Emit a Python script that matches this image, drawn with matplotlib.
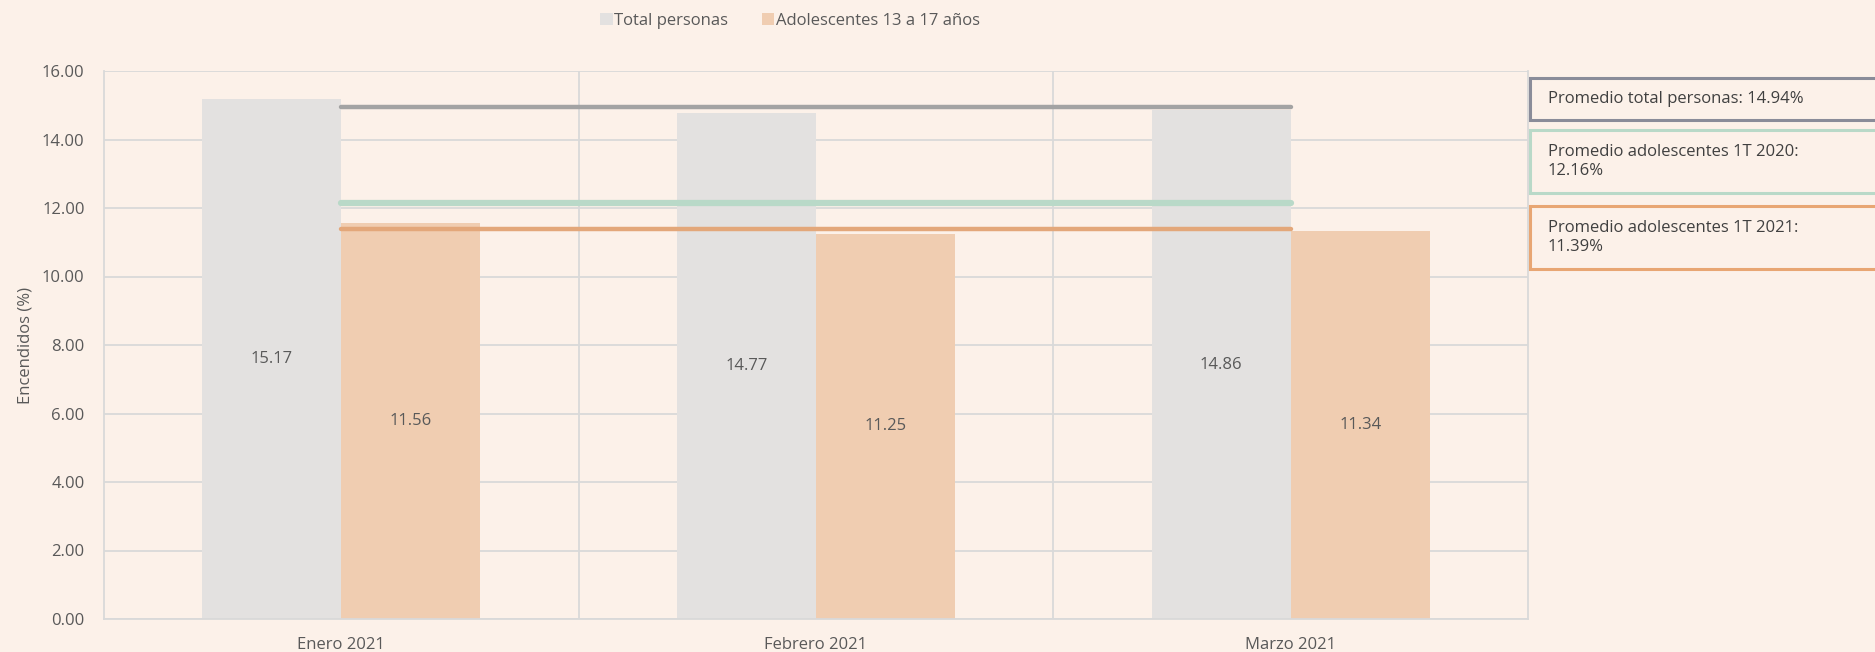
import matplotlib
matplotlib.use("Agg")
import matplotlib.pyplot as plt
from matplotlib.patches import Rectangle, Patch
import numpy as np

categories = ["Enero 2021", "Febrero 2021", "Marzo 2021"]
total_personas = [15.17, 14.77, 14.86]
adolescentes = [11.56, 11.25, 11.34]
prom_total = 14.94
prom_adol_2020 = 12.16
prom_adol_2021 = 11.39
series_names = ["Total personas", "Adolescentes 13 a 17 años"]
box_texts = ["Promedio total personas: 14.94%",
             "Promedio adolescentes 1T 2020:\n12.16%",
             "Promedio adolescentes 1T 2021:\n11.39%"]

BG = "#FCF1E9"
C_TOTAL = "#E3E1E0"
C_ADOL = "#F0CDB1"
C_LGRAY = "#A3A3A3"
C_LGREEN = "#B9D9C8"
C_LORANGE = "#E3A77A"
TXT = "#595959"
GRID = "#D9D9D9"

plt.rcParams['font.family'] = ['Open Sans', 'DejaVu Sans']

W, H = 1875, 652
fig = plt.figure(figsize=(W/100, H/100), dpi=100, facecolor=BG)
left, right, top, bottom = 104, 1528, 71, 619
ax = fig.add_axes([left/W, 1-bottom/H, (right-left)/W, (bottom-top)/H])
ax.set_facecolor(BG)

x = np.arange(len(categories))
bw = 0.293
ax.bar(x - bw/2, total_personas, width=bw, color=C_TOTAL, zorder=2)
ax.bar(x + bw/2, adolescentes, width=bw, color=C_ADOL, zorder=2)

for xi, v in zip(x, total_personas):
    ax.text(xi - bw/2, v/2, f"{v:.2f}", ha="center", va="center", color=TXT, fontsize=12, zorder=4)
for xi, v in zip(x, adolescentes):
    ax.text(xi + bw/2, v/2, f"{v:.2f}", ha="center", va="center", color=TXT, fontsize=12, zorder=4)

ax.plot([x[0], x[-1]], [prom_total]*2, color=C_LGRAY, lw=3.2, solid_capstyle="round", zorder=3)
ax.plot([x[0], x[-1]], [prom_adol_2020]*2, color=C_LGREEN, lw=4.5, solid_capstyle="round", zorder=3)
ax.plot([x[0], x[-1]], [prom_adol_2021]*2, color=C_LORANGE, lw=3.2, solid_capstyle="round", zorder=3)

ax.set_xlim(-0.5, 2.5)
ax.set_ylim(0, 16)
ax.set_yticks(np.arange(0, 16.01, 2))
ax.set_yticklabels([f"{t:.2f}" for t in np.arange(0, 16.01, 2)])
ax.set_xticks(x)
ax.set_xticklabels(categories)
ax.set_xticks([0.5, 1.5], minor=True)
ax.grid(axis="y", color=GRID, lw=1.3, zorder=1)
ax.grid(axis="x", which="minor", color=GRID, lw=1.3, zorder=1)
ax.tick_params(axis="both", which="both", length=0, colors=TXT, labelsize=12)
ax.tick_params(axis="x", pad=13)
ax.tick_params(axis="y", pad=14)
ax.spines["top"].set_visible(False)
for s in ["left", "right", "bottom"]:
    ax.spines[s].set_color(GRID)
    ax.spines[s].set_linewidth(1.3)
ax.set_ylabel("Encendidos (%)", color=TXT, fontsize=12, labelpad=6)

handles = [Patch(facecolor=C_TOTAL, edgecolor="none"), Patch(facecolor=C_ADOL, edgecolor="none")]
fig.legend(handles, series_names, loc="center", bbox_to_anchor=(790/W, 1-21/H), ncol=2,
           frameon=False, fontsize=12, handlelength=0.75, handleheight=0.75, handletextpad=0.1,
           columnspacing=2.0, labelcolor=TXT)

boxes = [(78, 120, "#8A8C99"), (130, 193, C_LGREEN), (206, 269, "#E8A673")]
for (y0, y1, ec), t in zip(boxes, box_texts):
    r = Rectangle((1530/W, 1-y1/H), (1880-1530)/W, (y1-y0)/H, transform=fig.transFigure,
                  facecolor=BG, edgecolor=ec, lw=2.2, clip_on=False)
    fig.add_artist(r)
    fig.text(1548/W, 1-((y0+y1)/2)/H, t, ha="left", va="center", fontsize=12, color="#404040", linespacing=1.3)

fig.savefig("out.png", dpi=100, facecolor=BG)
